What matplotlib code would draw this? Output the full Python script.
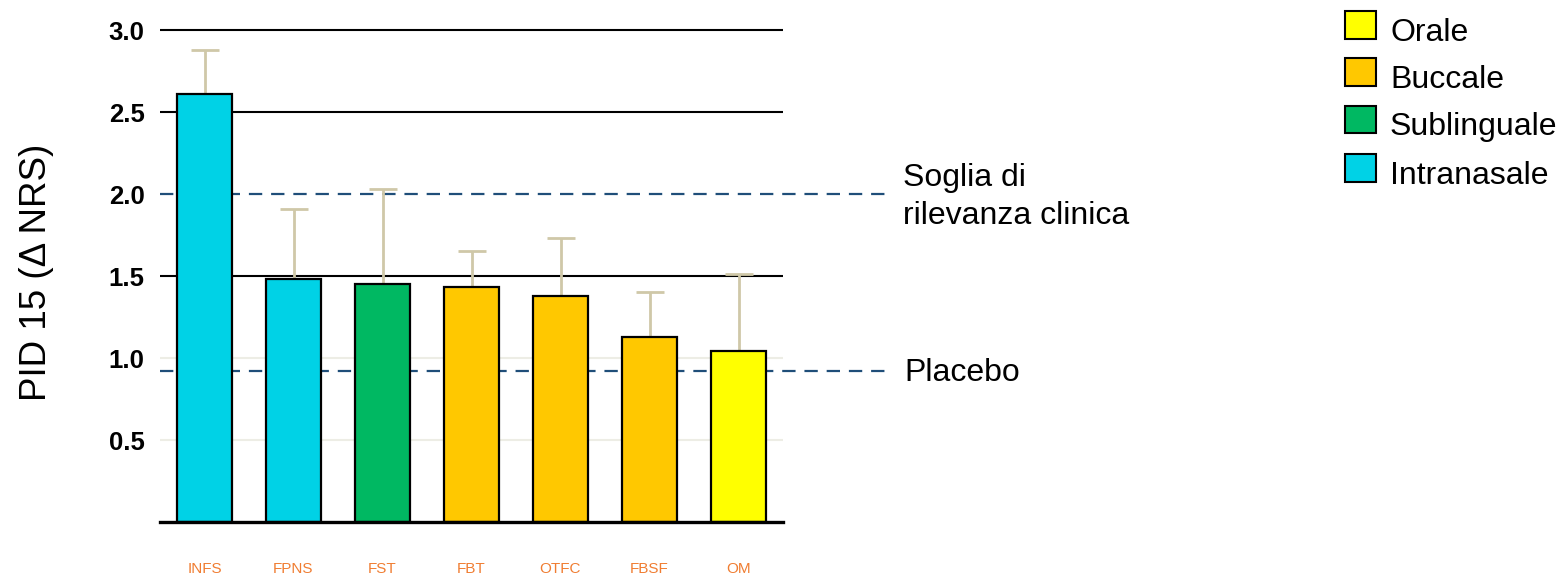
import matplotlib
matplotlib.use("Agg")
import matplotlib.pyplot as plt
from matplotlib.patches import Rectangle

plt.rcParams['font.family'] = ['Liberation Sans', 'DejaVu Sans']

# Data
formulations = ["INFS", "FPNS", "FST", "FBT", "OTFC", "FBSF", "OM"]
pid15 = [2.61, 1.48, 1.45, 1.43, 1.38, 1.13, 1.04]
pid15_upper = [2.88, 1.91, 2.03, 1.65, 1.73, 1.40, 1.51]
route = ["Intranasale", "Intranasale", "Sublinguale", "Buccale", "Buccale", "Buccale", "Orale"]

route_colors = {
    "Orale": "#FFFF00",
    "Buccale": "#FFC800",
    "Sublinguale": "#00B862",
    "Intranasale": "#00D2E6",
}
legend_order = ["Orale", "Buccale", "Sublinguale", "Intranasale"]

threshold_value = 2.0
placebo_value = 0.92
yticks = [0.5, 1.0, 1.5, 2.0, 2.5, 3.0]
ytick_labels = ["0.5", "1.0", "1.5", "2.0", "2.5", "3.0"]

W, H = 1562, 577
fig = plt.figure(figsize=(W / 100, H / 100), dpi=100)
ax = fig.add_axes([160 / W, 1 - 522 / H, (783 - 160) / W, (522 - 13.6) / H])
ax.set_xlim(-0.5, len(formulations) - 0.5)
ax.set_ylim(0, 3.1)

x = list(range(len(formulations)))

# Horizontal reference lines
for v in [3.0, 2.5, 1.5]:
    ax.axhline(v, color="black", lw=1.5, zorder=1)
for v in [1.0, 0.5]:
    ax.axhline(v, color="#EDEDE5", lw=1.5, zorder=1)

dash_end = (885 - 160) / 89 - 0.5
for v in [threshold_value, placebo_value]:
    ax.plot([-0.5, dash_end], [v, v], color="#1F4E79", lw=1.6,
            dashes=(6, 4), clip_on=False, zorder=1)

# Error bars (upper only)
err = [u - v for u, v in zip(pid15_upper, pid15)]
ax.errorbar(x, pid15, yerr=[[0] * len(err), err], fmt="none",
            ecolor="#CFC8A8", elinewidth=2, capsize=10, capthick=2, zorder=2)

# Bars
ax.bar(x, pid15, width=0.62, color=[route_colors[r] for r in route],
       edgecolor="black", linewidth=1.6, zorder=3)

# Baseline
ax.plot([-0.5, len(formulations) - 0.5], [0, 0], color="black", lw=2.4,
        clip_on=False, zorder=4)

for s in ax.spines.values():
    s.set_visible(False)

ax.set_yticks(yticks)
ax.set_yticklabels(ytick_labels, fontsize=18.5, fontweight="bold")
ax.tick_params(axis="y", length=0, pad=11)
ax.set_xticks(x)
ax.set_xticklabels(formulations, fontsize=11, color="#F07D32")
ax.tick_params(axis="x", length=0, pad=29)

ax.text(dash_end + 0.2, threshold_value - 0.02, "Soglia di\nrilevanza clinica",
        fontsize=23, va="center", ha="left", linespacing=1.35, clip_on=False)
ax.text(dash_end + 0.22, placebo_value - 0.01, "Placebo", fontsize=23,
        va="center", ha="left", clip_on=False)

fig.text(37 / W, 1 - 272 / H, "PID 15 (Δ NRS)", rotation=90, fontsize=26.5,
         ha="center", va="center")

# Legend
row_y = [25, 72, 119, 168]
for name, yc in zip(legend_order, row_y):
    fig.patches.append(Rectangle((1345 / W, 1 - (yc + 13.5) / H), 31 / W, 27 / H,
                                 transform=fig.transFigure, facecolor=route_colors[name],
                                 edgecolor="black", lw=1.5))
    fig.text(1390 / W, 1 - (yc + 8) / H, name, fontsize=23, ha="left", va="center")

fig.savefig("out.png", dpi=100)
